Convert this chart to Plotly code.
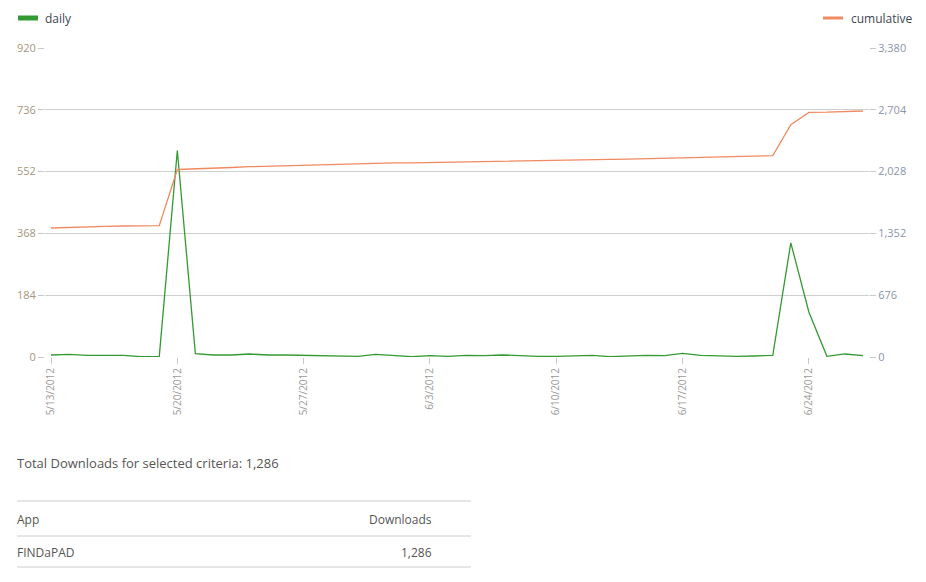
import plotly.graph_objects as go
import pandas as pd

# ---- data ----
start_date = "2012-05-13"
daily = [6, 8, 5, 4, 5, 1, 2, 615, 10, 6, 6, 9, 6, 6, 5, 5, 5, 2, 8, 4, 1, 4, 2, 5, 4,
         6, 3, 2, 2, 3, 5, 1, 3, 5, 4, 11, 5, 3, 2, 3, 5, 340, 134, 2, 9, 4]
cumulative = [1411, 1419, 1424, 1428, 1433, 1434, 1436, 2051, 2061, 2067, 2073, 2082, 2088,
              2094, 2099, 2104, 2109, 2111, 2119, 2123, 2124, 2128, 2130, 2135, 2139, 2145,
              2148, 2150, 2152, 2155, 2160, 2161, 2164, 2169, 2173, 2184, 2189, 2192, 2194,
              2197, 2202, 2542, 2676, 2678, 2687, 2691]
x_tick_dates = ["2012-05-13", "2012-05-20", "2012-05-27", "2012-06-03", "2012-06-10",
                "2012-06-17", "2012-06-24"]
x_tick_labels = ["5/13/2012", "5/20/2012", "5/27/2012", "6/3/2012", "6/10/2012",
                 "6/17/2012", "6/24/2012"]
left_ticks = [0, 184, 368, 552, 736, 920]
right_ticks = [0, 676, 1352, 2028, 2704, 3380]
series_names = ["daily", "cumulative"]
table_header = ["App", "Downloads"]
table_apps = ["FINDaPAD"]
table_downloads = [1286]
total_downloads = 1286

dates = pd.date_range(start_date, periods=len(daily), freq="D")

GREEN = "#339a33"
ORANGE = "#ef8a62"
FONT = "Open Sans"

fig = go.Figure()
fig.add_trace(go.Scatter(x=dates, y=daily, mode="lines", name=series_names[0],
                         line=dict(color=GREEN, width=1.3), yaxis="y"))
fig.add_trace(go.Scatter(x=dates, y=cumulative, mode="lines", name=series_names[1],
                         line=dict(color=ORANGE, width=1.3), yaxis="y2"))

# page body has an 8px margin, so the figure sits at (8, 8) in the window
OFF = 8
W, H = 926 - 2 * OFF, 582 - 2 * OFF
L, T = 45 - OFF, 48 - OFF
R = W - (869 - OFF)
B = H - (357 - OFF)
pw, ph = W - L - R, H - T - B

def px(x):
    return (x - OFF - L) / pw

def py(y):
    return (H - B - (y - OFF)) / ph

x0 = dates[0] - pd.Timedelta(hours=8)
x1 = dates[-1] + pd.Timedelta(hours=8)

fig.update_layout(
    width=W, height=H,
    margin=dict(l=L, r=R, t=T, b=B, autoexpand=False),
    paper_bgcolor="white", plot_bgcolor="white",
    showlegend=False,
    font=dict(family=FONT, color="#555"),
    xaxis=dict(
        range=[x0, x1], tickvals=x_tick_dates, ticktext=x_tick_labels,
        tickangle=-90, ticks="outside", ticklen=6, tickcolor="#c8c8c8",
        showgrid=False, showline=False, zeroline=False, automargin=False,
        tickfont=dict(family=FONT, size=10, color="#9a9a9a"),
    ),
    yaxis=dict(
        range=[0, 920], tickvals=left_ticks, ticktext=[f"{v:,}" for v in left_ticks],
        ticks="outside", ticklen=6, tickcolor="#c8c8c8", automargin=False,
        showgrid=True, gridcolor="#cfcfcf", gridwidth=1, zeroline=False, showline=False,
        tickfont=dict(family=FONT, size=11, color="#a8957e"),
    ),
    yaxis2=dict(
        range=[0, 3380], tickvals=right_ticks, ticktext=[f"{v:,}" for v in right_ticks],
        overlaying="y", side="right", automargin=False,
        ticks="outside", ticklen=6, tickcolor="#c8c8c8",
        showgrid=False, zeroline=False, showline=False,
        tickfont=dict(family=FONT, size=11, color="#8c95aa"),
    ),
)

shapes = []
annotations = []
# legend
shapes.append(dict(type="line", xref="paper", yref="paper",
                   x0=px(18), x1=px(38), y0=py(18), y1=py(18),
                   line=dict(color=GREEN, width=5)))
annotations.append(dict(text=series_names[0], xref="paper", yref="paper",
                        x=px(43), y=py(18), xanchor="left", yanchor="middle",
                        showarrow=False, font=dict(family=FONT, size=12, color="#3e4756")))
shapes.append(dict(type="line", xref="paper", yref="paper",
                   x0=px(823), x1=px(843), y0=py(18), y1=py(18),
                   line=dict(color=ORANGE, width=3)))
annotations.append(dict(text=series_names[1], xref="paper", yref="paper",
                        x=px(849), y=py(18), xanchor="left", yanchor="middle",
                        showarrow=False, font=dict(family=FONT, size=12, color="#3e4756")))

# total text
annotations.append(dict(text=f"Total Downloads for selected criteria: {total_downloads:,}",
                        xref="paper", yref="paper", x=px(15), y=py(463),
                        xanchor="left", yanchor="middle", showarrow=False,
                        font=dict(family=FONT, size=13, color="#555")))

# table
for yline in [501, 536, 567]:
    shapes.append(dict(type="line", xref="paper", yref="paper",
                       x0=px(17), x1=px(471), y0=py(yline), y1=py(yline),
                       line=dict(color="#cccccc", width=1)))
annotations.append(dict(text=table_header[0], xref="paper", yref="paper",
                        x=px(15), y=py(519), xanchor="left", yanchor="middle",
                        showarrow=False, font=dict(family=FONT, size=12, color="#555")))
annotations.append(dict(text=table_header[1], xref="paper", yref="paper",
                        x=px(434), y=py(519), xanchor="right", yanchor="middle",
                        showarrow=False, font=dict(family=FONT, size=12, color="#555")))
for i, (app, dl) in enumerate(zip(table_apps, table_downloads)):
    yrow = 552 + i * 31
    annotations.append(dict(text=app, xref="paper", yref="paper",
                            x=px(15), y=py(yrow), xanchor="left", yanchor="middle",
                            showarrow=False, font=dict(family=FONT, size=12, color="#555")))
    annotations.append(dict(text=f"{dl:,}", xref="paper", yref="paper",
                            x=px(434), y=py(yrow), xanchor="right", yanchor="middle",
                            showarrow=False, font=dict(family=FONT, size=12, color="#555")))

fig.update_layout(shapes=shapes, annotations=annotations)
fig.write_html("out.html")
